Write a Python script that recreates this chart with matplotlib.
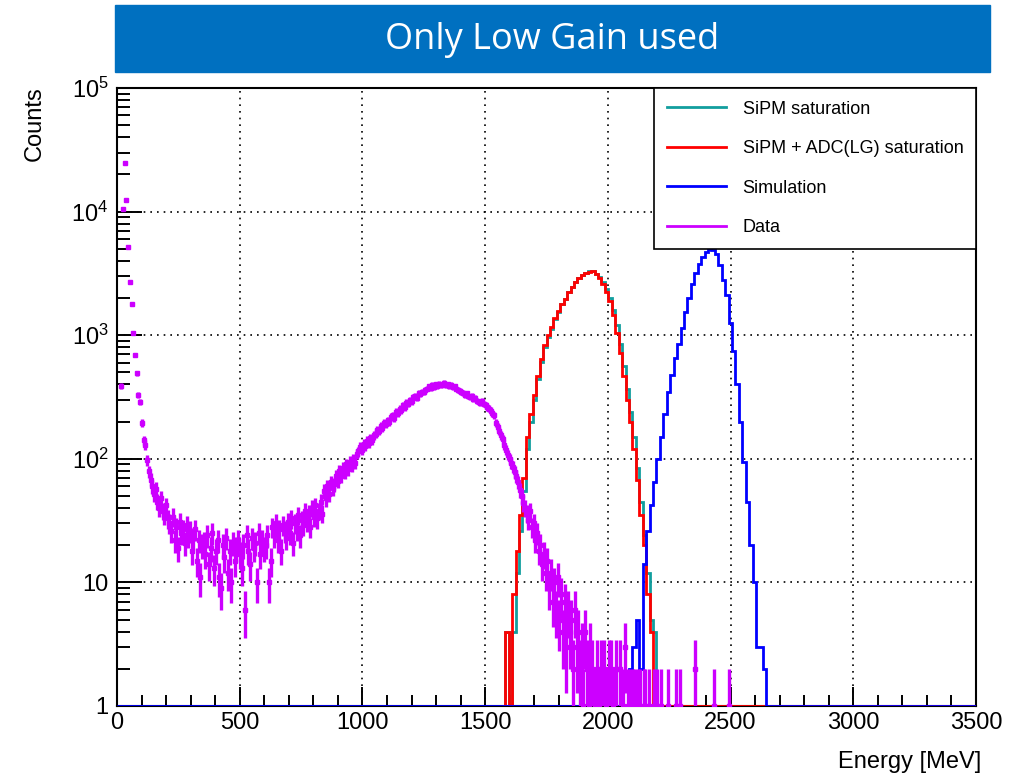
import numpy as np
import matplotlib.pyplot as plt
from matplotlib.lines import Line2D
from matplotlib.patches import Rectangle
from matplotlib.ticker import FixedLocator, FixedFormatter, LogLocator, MultipleLocator, NullFormatter

plt.rcParams['font.family'] = ['Liberation Sans', 'DejaVu Sans']
plt.rcParams['mathtext.default'] = 'regular'

# --- data ---
# measured data, 7 MeV bins starting at 0 (10 bins per row)
data_bin = 7
data_counts = [
    0, 0, 390, 10400, 24500, 12500, 5200, 2700, 1780, 1040,   # 0-70
    690, 490, 330, 290, 195, 142, 130, 98, 79, 68,            # 70-140
    60, 52, 57, 45, 40, 48, 38, 35, 42, 33,                   # 140-210
    30, 26, 34, 22, 28, 19, 31, 25, 27, 21,                   # 210-280
    29, 24, 26, 18, 23, 27, 15, 22, 11, 20,                   # 280-350
    21, 17, 24, 14, 19, 25, 13, 18, 22, 11,                   # 350-420
    9, 20, 16, 23, 12, 18, 10, 21, 15, 19,                    # 420-490
    22, 17, 13, 20, 6, 24, 18, 14, 23, 19,                    # 490-560
    21, 10, 25, 17, 22, 19, 20, 24, 10, 15,                   # 560-630
    28, 24, 30, 22, 27, 18, 29, 26, 23, 31,                   # 630-700
    25, 33, 21, 30, 27, 35, 24, 32, 29, 38,                   # 700-770
    31, 36, 28, 40, 34, 42, 33, 38, 45, 36,                   # 770-840
    55, 48, 60, 52, 65, 58, 62, 72, 66, 80,                   # 840-910
    72, 85, 78, 90, 82, 95, 88, 100, 92, 110,                 # 910-980
    115, 125, 118, 132, 128, 140, 135, 148, 142, 155,         # 980-1050
    160, 172, 168, 185, 178, 195, 190, 205, 200, 218,         # 1050-1120
    225, 215, 240, 235, 255, 248, 270, 262, 285, 278,         # 1120-1190
    300, 292, 315, 322, 310, 340, 332, 350, 345, 362,         # 1190-1260
    370, 385, 375, 395, 380, 400, 388, 405, 392, 398,         # 1260-1330
    410, 395, 402, 388, 398, 378, 385, 370, 362, 355,         # 1330-1400
    348, 340, 330, 338, 322, 315, 320, 305, 310, 295,         # 1400-1470
    290, 285, 292, 278, 270, 262, 255, 245, 235, 225,         # 1470-1540
    195, 180, 168, 155, 145, 130, 118, 108, 100, 92,          # 1540-1610
    86, 78, 72, 65, 56, 50, 44, 40, 36, 32,                   # 1610-1680
    38, 28, 30, 22, 25, 18, 20, 14, 17, 12,                   # 1680-1750
    15, 9, 12, 7, 10, 6, 11, 5, 8, 4,                         # 1750-1820
    7, 3, 6, 4, 5, 2, 6, 3, 4, 2,                             # 1820-1890
    3, 1, 4, 2, 1, 3, 2, 0, 1, 2,                             # 1890-1960
    1, 2, 0, 2, 1, 0, 2, 2, 1, 0,                             # 1960-2030
    2, 0, 2, 0, 1, 3, 0, 1, 1, 0,                             # 2030-2100
    1, 1, 0, 1, 1, 0, 1, 1, 0, 1,                             # 2100-2170
    0, 0, 1, 0, 1, 0, 1, 0, 0, 0,                             # 2170-2240
    1, 0, 0, 0, 0, 1, 0, 1, 0, 0,                             # 2240-2310
    0, 0, 0, 0, 0, 0, 2, 0, 0, 0,                             # 2310-2380
    0, 0, 0, 0, 0, 0, 0, 1, 0, 0,                             # 2380-2450
    0, 0, 0, 0, 0, 0, 1, 0, 0, 0,                             # 2450-2520
]

# model histograms, 14 MeV bins
hist_bin = 14
sipm_start = 1568
sipm_counts = [0, 4, 0, 4, 12, 26, 55, 120, 200, 300, 440, 610, 800, 960, 1130,
               1350, 1550, 1780, 1950, 2230, 2450, 2700, 2900, 3080, 3200, 3280,
               3300, 3150, 2950, 2680, 2350, 2000, 1600, 1200, 850, 560, 370, 240,
               150, 85, 45, 24, 12, 5, 4]
adc_start = 1568
adc_counts = [0, 4, 0, 8, 18, 35, 70, 150, 230, 330, 470, 640, 840, 1000, 1170,
              1380, 1570, 1800, 1950, 2250, 2450, 2700, 2880, 3050, 3180, 3260,
              3280, 3100, 2900, 2600, 2250, 1900, 1450, 1050, 720, 470, 300, 200,
              120, 68, 35, 20, 8, 4]
sim_start = 2086
sim_counts = [2, 3, 5, 2, 14, 26, 42, 65, 100, 150, 230, 350, 480, 650, 850, 1150,
              1550, 2000, 2600, 3200, 3800, 4300, 4750, 5000, 4900, 4500, 3700,
              2800, 2100, 1250, 750, 400, 200, 95, 45, 20, 10, 3, 3, 2]

legend_labels = ['SiPM saturation', 'SiPM + ADC(LG) saturation', 'Simulation', 'Data']
colors = ['#129e9e', '#ff0000', '#0000ff', '#cc00ff']

ytick_vals = [1, 10, 1e2, 1e3, 1e4, 1e5]
ytick_labels = ['1', '10', '$10^{2}$', '$10^{3}$', '$10^{4}$', '$10^{5}$']

# --- figure ---
fig = plt.figure(figsize=(10.25, 7.79), dpi=100)
ax = fig.add_axes([117/1025, 73/779, 859/1025, 618/779])

# title banner
fig.patches.append(Rectangle((115/1025, 1 - 72/779), 875/1025, 67/779,
                             transform=fig.transFigure, color='#0070c0'))
fig.text(552/1025, 1 - 40/779, 'Only Low Gain used', color='white',
         fontsize=26, family='Open Sans', ha='center', va='center')

edges = np.arange(0, 3500 + hist_bin, hist_bin)
nbins = len(edges) - 1


def full_hist(start, counts):
    h = np.zeros(nbins)
    i0 = start // hist_bin
    h[i0:i0 + len(counts)] = counts
    return h, i0


for (start, counts), col, z in [((sipm_start, sipm_counts), colors[0], 2),
                                ((adc_start, adc_counts), colors[1], 3)]:
    h, i0 = full_hist(start, counts)
    ax.stairs(np.clip(h[i0:], 1, None), edges[i0:], baseline=None,
              color=col, lw=2, zorder=z)

h_sim, _ = full_hist(sim_start, sim_counts)
ax.stairs(np.clip(h_sim, 1, None), edges, baseline=None, color=colors[2], lw=2, zorder=4)

# data points with poisson errors
n = np.array(data_counts, dtype=float)
x = np.arange(len(n)) * data_bin + data_bin / 2
m = n > 0
err = np.sqrt(n[m])
lo = n[m] - np.clip(n[m] - err, 1, None)
ax.errorbar(x[m], n[m], yerr=[lo, err], fmt='s', ms=3.5, color=colors[3],
            elinewidth=2.4, capsize=0, zorder=5)

ax.set_yscale('log')
ax.set_xlim(0, 3500)
ax.set_ylim(1, 1e5)

ax.xaxis.set_major_locator(MultipleLocator(500))
ax.xaxis.set_minor_locator(MultipleLocator(100))
ax.yaxis.set_major_locator(FixedLocator(ytick_vals))
ax.yaxis.set_major_formatter(FixedFormatter(ytick_labels))
ax.yaxis.set_minor_locator(LogLocator(base=10, subs=range(2, 10), numticks=20))
ax.yaxis.set_minor_formatter(NullFormatter())

ax.tick_params(which='both', direction='in', top=False, right=False, width=1.4,
               labelsize=17)
ax.tick_params(axis='x', which='major', length=14, pad=4)
ax.tick_params(axis='x', which='minor', length=8)
ax.tick_params(axis='y', which='major', length=18, pad=6)
ax.tick_params(axis='y', which='minor', length=9)
for s in ax.spines.values():
    s.set_linewidth(1.5)

ax.grid(which='major', linestyle=(0, (1, 3)), color='black', linewidth=1.2)

fig.text(35/1025, 1 - 86/779, 'Counts', rotation=90, fontsize=17, ha='center', va='top')
fig.text(981/1025, 1 - 762/779, 'Energy [MeV]', fontsize=17, ha='right', va='center')

handles = [Line2D([], [], color=c, lw=2) for c in colors]
leg = ax.legend(handles, legend_labels, loc='upper right', bbox_to_anchor=(1.0, 1.0),
                borderaxespad=0, fancybox=False, framealpha=1, edgecolor='black',
                fontsize=13, handlelength=3.3, handletextpad=0.9, labelspacing=1.25,
                borderpad=0.7)
leg.get_frame().set_linewidth(1.2)

fig.savefig('out.png', dpi=100)
